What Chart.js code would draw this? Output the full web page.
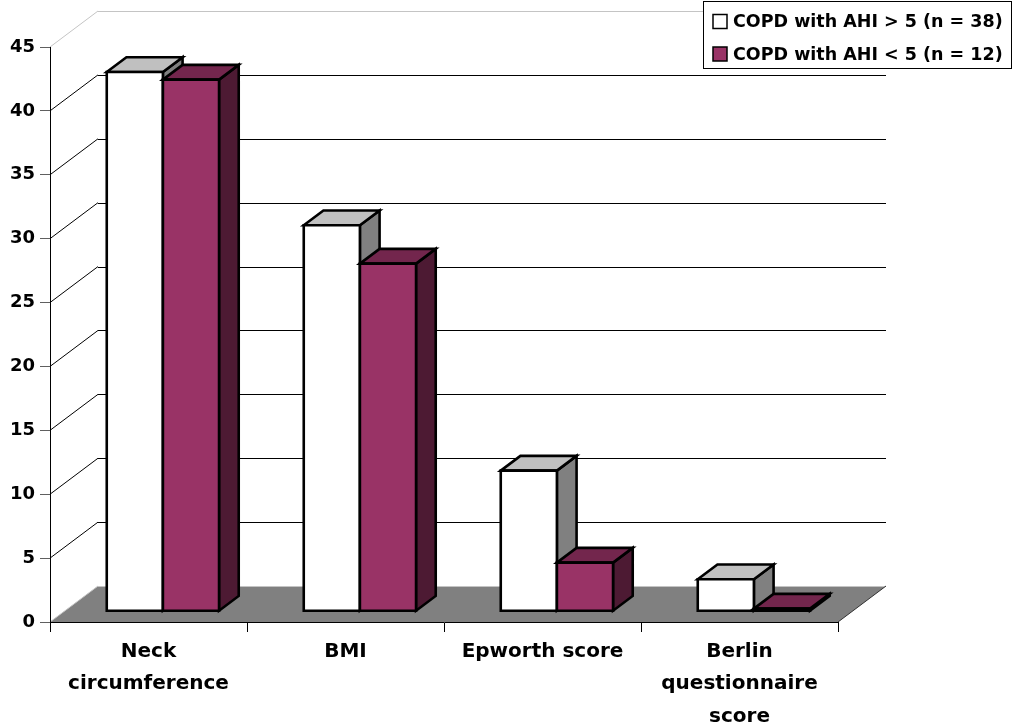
<!DOCTYPE html>
<html>
<head>
<meta charset="utf-8">
<script src="https://cdn.jsdelivr.net/npm/chart.js@4/dist/chart.umd.min.js"></script>
<style>
  html, body { margin: 0; padding: 0; background: #ffffff; }
  #wrap { width: 1014px; height: 727px; position: relative; }
</style>
</head>
<body>
<div id="wrap"><canvas id="chart"></canvas></div>
<script>
// Category labels (multi-line where the label wraps)
const categories = [['Neck', 'circumference'], 'BMI', 'Epworth score', ['Berlin', 'questionnaire', 'score']];

// Series names
const seriesNames = ['COPD with AHI > 5 (n = 38)', 'COPD with AHI < 5 (n = 12)'];

// Series values
const ahiAbove5 = [42.2, 30.2, 11.0, 2.5];
const ahiBelow5 = [41.6, 27.2, 3.8, 0.2];

// Value axis range
const yMin = 0;
const yMax = 45;
const yStep = 5;

// Oblique depth of the 3-D box (wall), and the slab of that depth the bars occupy
const WALL = { dx: 48, dy: -36 };
const SLAB = { front: 0.30, back: 0.71 };

const FONT = 'DejaVu Sans';

const box3d = {
  id: 'box3d',
  // back wall, side wall and floor, drawn under the axes
  beforeDraw(chart) {
    const { ctx, chartArea: a, scales: { y } } = chart;
    const dx = WALL.dx, dy = WALL.dy;
    ctx.save();

    // floor
    ctx.fillStyle = '#808080';
    ctx.beginPath();
    ctx.moveTo(a.left, a.bottom);
    ctx.lineTo(a.right, a.bottom);
    ctx.lineTo(a.right + dx, a.bottom + dy);
    ctx.lineTo(a.left + dx, a.bottom + dy);
    ctx.closePath();
    ctx.fill();

    // gridlines: diagonal on the side wall, horizontal on the back wall
    ctx.lineWidth = 1;
    y.ticks.forEach((t) => {
      const py = y.getPixelForValue(t.value);
      const by = Math.round(py + dy) + 0.5;
      const edge = (t.value === yMin || t.value === yMax);
      ctx.strokeStyle = edge ? '#c4c4c4' : '#000000';
      ctx.beginPath();
      ctx.moveTo(a.left, py);
      ctx.lineTo(a.left + dx, py + dy);
      ctx.stroke();
      ctx.beginPath();
      ctx.moveTo(a.left + dx, by);
      ctx.lineTo(a.right + dx, by);
      ctx.stroke();
    });

    // right edge of the floor
    ctx.strokeStyle = '#303030';
    ctx.beginPath();
    ctx.moveTo(a.right, a.bottom);
    ctx.lineTo(a.right + dx, a.bottom + dy);
    ctx.stroke();
    ctx.restore();
  },

  // bars as solid boxes standing on the floor
  beforeDatasetsDraw(chart) {
    const ctx = chart.ctx;
    const ox = WALL.dx * SLAB.front, oy = WALL.dy * SLAB.front;
    const bx = WALL.dx * (SLAB.back - SLAB.front), by = WALL.dy * (SLAB.back - SLAB.front);
    const count = chart.data.labels.length;
    ctx.save();
    ctx.lineWidth = 2.6;
    ctx.lineJoin = 'miter';
    ctx.strokeStyle = '#000000';
    for (let j = 0; j < count; j++) {
      chart.data.datasets.forEach((ds, i) => {
        const el = chart.getDatasetMeta(i).data[j];
        const p = el.getProps(['x', 'y', 'base', 'width'], true);
        const L = p.x - p.width / 2 + ox;
        const R = p.x + p.width / 2 + ox;
        const T = p.y + oy;
        const B = p.base + oy;
        const face = (pts, fill) => {
          ctx.beginPath();
          ctx.moveTo(pts[0][0], pts[0][1]);
          for (let k = 1; k < pts.length; k++) ctx.lineTo(pts[k][0], pts[k][1]);
          ctx.closePath();
          ctx.fillStyle = fill;
          ctx.fill();
          ctx.stroke();
        };
        face([[R, T], [R + bx, T + by], [R + bx, B + by], [R, B]], ds.sideColor);
        face([[L, T], [L + bx, T + by], [R + bx, T + by], [R, T]], ds.topColor);
        face([[L, T], [R, T], [R, B], [L, B]], ds.backgroundColor);
      });
    }
    ctx.restore();
    return false;
  },

  // boxed legend in the top-right corner
  afterDraw(chart) {
    const ctx = chart.ctx;
    const box = { x: 703.5, y: 1.5, w: 308, h: 67 };
    ctx.save();
    ctx.lineWidth = 1;
    ctx.strokeStyle = '#000000';
    ctx.fillStyle = '#ffffff';
    ctx.fillRect(box.x, box.y, box.w, box.h);
    ctx.strokeRect(box.x, box.y, box.w, box.h);
    ctx.font = 'bold 17.5px "' + FONT + '"';
    ctx.textBaseline = 'middle';
    ctx.textAlign = 'left';
    chart.data.datasets.forEach((ds, i) => {
      const cy = 21.5 + i * 32.5;
      ctx.fillStyle = ds.backgroundColor;
      ctx.fillRect(713, cy - 7, 14, 14);
      ctx.lineWidth = 1.5;
      ctx.strokeStyle = '#000000';
      ctx.strokeRect(713, cy - 7, 14, 14);
      ctx.fillStyle = '#000000';
      ctx.fillText(ds.label, 733, cy + 1);
    });
    ctx.restore();
  }
};

new Chart(document.getElementById('chart'), {
  type: 'bar',
  data: {
    labels: categories,
    datasets: [
      {
        label: seriesNames[0],
        data: ahiAbove5,
        backgroundColor: '#ffffff',
        topColor: '#c0c0c0',
        sideColor: '#808080'
      },
      {
        label: seriesNames[1],
        data: ahiBelow5,
        backgroundColor: '#993366',
        topColor: '#73264d',
        sideColor: '#4d1a33'
      }
    ]
  },
  options: {
    responsive: true,
    maintainAspectRatio: false,
    animation: false,
    layout: { padding: { top: 47, right: 176, left: 0, bottom: 0 } },
    datasets: { bar: { categoryPercentage: 0.57, barPercentage: 1.0 } },
    plugins: {
      legend: { display: false },
      tooltip: { enabled: false }
    },
    scales: {
      x: {
        afterFit(scale) { scale.height = 105; },
        grid: {
          offset: true,
          drawOnChartArea: false,
          drawTicks: true,
          tickLength: 10,
          tickColor: '#000000',
          color: '#000000'
        },
        border: { display: true, color: '#000000', width: 1 },
        ticks: {
          color: '#000000',
          font: { family: FONT, weight: 'bold', size: 20, lineHeight: 1.63 },
          padding: 3,
          maxRotation: 0,
          autoSkip: false
        }
      },
      y: {
        min: yMin,
        max: yMax,
        afterFit(scale) { scale.width = 50; },
        grid: {
          drawOnChartArea: false,
          drawTicks: true,
          tickLength: 10,
          tickColor: '#606060'
        },
        border: { display: true, color: '#000000', width: 1 },
        ticks: {
          stepSize: yStep,
          color: '#000000',
          font: { family: FONT, weight: 'bold', size: 18 },
          padding: 5
        }
      }
    }
  },
  plugins: [box3d]
});
</script>
</body>
</html>
